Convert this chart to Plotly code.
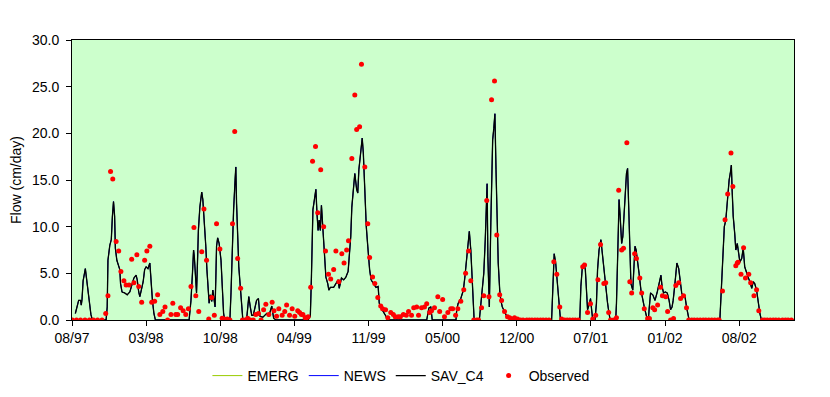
import plotly.graph_objects as go

# ---- data (x = days since start of record, 31 Aug 1997) ----
tick_days = [0, 200, 400, 600, 800, 1000, 1200, 1400, 1600, 1800]
tick_labels = ["08/97", "03/98", "10/98", "04/99", "11/99", "05/00", "12/00", "07/01", "01/02", "08/02"]
y_ticks = [0, 5, 10, 15, 20, 25, 30]

sim_day = [9, 13, 18, 23, 25, 27, 30, 36, 39, 43, 48, 51, 55, 92, 95, 97, 102, 106, 109, 112, 115, 117,
           121, 124, 129, 131, 135, 142, 149, 156, 162, 167, 173, 176, 180, 183, 187, 192, 196, 200, 205,
           210, 212, 214, 217, 221, 225, 316, 321, 325, 328, 330, 336, 338, 341, 345, 350, 353, 357, 361,
           364, 368, 370, 373, 377, 380, 383, 386, 388, 390, 393, 397, 402, 405, 409, 412, 426, 429, 432,
           436, 440, 442, 444, 447, 450, 454, 458, 461, 471, 474, 477, 481, 485, 489, 494, 498, 503, 507,
           515, 525, 531, 539, 544, 550, 637, 643, 646, 647, 650, 654, 656, 658, 661, 664, 667, 670, 673,
           676, 679, 682, 685, 690, 693, 697, 706, 712, 718, 721, 727, 733, 739, 745, 748, 752, 755, 760,
           763, 768, 771, 774, 777, 780, 783, 786, 789, 791, 794, 798, 800, 803, 807, 813, 820, 826, 829,
           834, 840, 847, 851, 957, 963, 968, 972, 1036, 1038, 1042, 1049, 1056, 1060, 1065, 1069, 1072,
           1076, 1078, 1081, 1084, 1085, 1099, 1103, 1107, 1111, 1115, 1117, 1120, 1122, 1126, 1130, 1132,
           1135, 1138, 1139, 1141, 1144, 1147, 1150, 1154, 1157, 1161, 1166, 1173, 1182, 1187, 1294, 1298,
           1301, 1305, 1308, 1312, 1316, 1318, 1370, 1373, 1377, 1381, 1385, 1388, 1391, 1395, 1399, 1402,
           1405, 1411, 1415, 1418, 1422, 1427, 1432, 1436, 1440, 1445, 1449, 1452, 1467, 1469, 1474, 1476,
           1479, 1483, 1486, 1490, 1494, 1496, 1499, 1502, 1505, 1508, 1513, 1515, 1519, 1522, 1526, 1530,
           1535, 1540, 1544, 1550, 1555, 1557, 1561, 1567, 1573, 1579, 1584, 1589, 1592, 1596, 1601, 1606,
           1611, 1615, 1619, 1622, 1626, 1629, 1632, 1637, 1640, 1645, 1649, 1654, 1658, 1663, 1665, 1748,
           1751, 1755, 1760, 1764, 1768, 1770, 1773, 1776, 1779, 1781, 1784, 1788, 1791, 1795, 1798, 1802,
           1807, 1811, 1815, 1820, 1824, 1829, 1834, 1838, 1842, 1847, 1851, 1856, 1860, 1947]
sim_flow = [0.7, 1.5, 2.1, 2.1, 1.6, 2.2, 4.2, 5.5, 4.5, 3.0, 1.7, 0.6, 0, 0, 1.4, 6.4, 8.0, 8.6, 11.1, 12.7,
            11.1, 7.7, 6.4, 6.1, 5.4, 3.9, 3.0, 2.9, 2.7, 3.0, 3.9, 4.5, 4.8, 4.3, 3.0, 2.5, 3.2, 4.1, 5.4,
            5.7, 5.5, 6.1, 5.0, 3.6, 2.1, 0.7, 0, 0, 2.1, 5.0, 7.5, 6.8, 2.9, 5.4, 9.6, 12.1, 13.7, 12.9,
            10.7, 7.9, 5.4, 2.9, 1.8, 2.7, 2.0, 3.2, 2.1, 1.4, 4.3, 7.9, 8.8, 8.2, 6.4, 3.6, 0.7, 0, 0, 2.9,
            7.9, 11.8, 15.0, 16.4, 12.5, 8.6, 5.7, 3.6, 1.4, 0, 0, 1.4, 2.5, 1.4, 0.5, 0.5, 1.4, 2.1, 2.3,
            0.4, 0.3, 0.7, 0.4, 1.5, 0.2, 0, 0, 0.4, 4.6, 8.2, 11.8, 12.9, 13.6, 14.0, 11.4, 9.6, 10.7, 9.6,
            12.3, 10.0, 8.2, 6.4, 4.6, 3.9, 3.2, 3.5, 3.5, 3.9, 4.3, 3.4, 4.5, 4.3, 4.6, 5.2, 6.8, 8.9, 12.1,
            14.3, 15.7, 14.0, 13.6, 16.1, 17.3, 18.75, 19.5, 17.9, 15.0, 12.1, 10.0, 7.9, 6.6, 5.4, 4.3,
            3.9, 3.5, 3.6, 1.8, 1.3, 0.9, 0.4, 0, 0, 1.3, 1.4, 0, 0, 1.1, 1.8, 2.3, 3.2, 4.6, 6.8, 8.6, 9.5,
            7.5, 5.4, 3.2, 0.7, 0, 0, 1.8, 2.9, 5.0, 8.6, 11.8, 14.6, 6.8, 1.4, 10.4, 16.1, 19.3, 20.5,
            21.4, 22.1, 16.1, 10.4, 6.1, 3.2, 2.1, 1.4, 0.9, 0.4, 0.1, 0, 0, 3.6, 7.1, 6.1, 4.6, 2.5, 1.1,
            0, 0, 3.6, 5.7, 6.1, 5.4, 3.2, 1.1, 1.6, 2.3, 1.1, 0, 0, 1.8, 5.4, 7.5, 8.6, 6.8, 5.0, 3.2,
            1.8, 0.7, 0, 0, 1.8, 9.6, 12.9, 11.1, 8.2, 8.9, 11.4, 14.6, 15.7, 16.25, 11.4, 6.1, 3.9, 3.2,
            5.4, 7.9, 7.5, 6.4, 5.0, 3.2, 2.0, 1.4, 0.4, 0, 1.1, 2.9, 2.7, 2.1, 3.0, 3.9, 4.8, 3.6, 2.9,
            3.0, 2.9, 2.1, 1.1, 1.4, 2.1, 3.6, 5.4, 6.1, 5.5, 4.3, 2.9, 2.5, 2.5, 1.4, 0.2, 0, 0, 2.5, 6.8,
            10.0, 10.7, 12.9, 14.0, 15.0, 15.7, 16.6, 14.0, 11.1, 9.3, 7.5, 8.2, 7.0, 6.2, 6.6, 7.7, 5.7,
            5.0, 4.6, 4.1, 3.4, 4.1, 3.9, 3.2, 1.8, 0.7, 0, 0]

# The three model runs coincide in the reference (only SAV_C4 is visible on top)
emerg_flow = sim_flow
news_flow = sim_flow

obs_day = [1, 12, 23, 35, 47, 58, 69, 81, 91, 97, 104, 110, 119, 126, 132, 140, 146, 154, 161, 167, 175,
           180, 188, 196, 202, 210, 215, 223, 231, 237, 245, 251, 258, 267, 272, 280, 285, 293, 300, 307,
           314, 321, 329, 334, 342, 350, 356, 363, 369, 377, 384, 390, 399, 405, 411, 419, 426, 433, 439,
           447, 455, 460, 467, 474, 481, 489, 496, 503, 510, 517, 523, 531, 540, 545, 552, 558, 567, 574,
           579, 587, 594, 601, 609, 614, 619, 623, 629, 633, 637, 644, 649, 657, 663, 671, 679, 684, 692,
           698, 706, 712, 720, 728, 734, 741, 746, 755, 763, 768, 776, 781, 790, 798, 803, 811, 817, 825,
           833, 838, 846, 852, 860, 867, 872, 880, 886, 894, 902, 908, 916, 922, 930, 935, 943, 951, 957,
           965, 970, 978, 987, 992, 1000, 1005, 1014, 1022, 1027, 1035, 1041, 1049, 1057, 1062, 1070,
           1076, 1084, 1092, 1097, 1105, 1111, 1119, 1125, 1132, 1140, 1146, 1154, 1159, 1167, 1175, 1181,
           1189, 1194, 1202, 1210, 1217, 1227, 1234, 1241, 1249, 1256, 1264, 1271, 1279, 1287, 1300, 1308,
           1316, 1321, 1329, 1336, 1343, 1351, 1358, 1366, 1378, 1383, 1391, 1399, 1405, 1413, 1419, 1426,
           1435, 1440, 1448, 1453, 1461, 1469, 1475, 1483, 1488, 1497, 1505, 1510, 1518, 1523, 1532, 1537,
           1544, 1553, 1558, 1567, 1572, 1580, 1588, 1593, 1602, 1607, 1615, 1623, 1629, 1637, 1642, 1650,
           1658, 1664, 1672, 1679, 1687, 1695, 1703, 1710, 1718, 1726, 1734, 1742, 1746, 1755, 1762, 1769,
           1778, 1783, 1791, 1795, 1797, 1805, 1812, 1817, 1826, 1831, 1840, 1847, 1853, 1863, 1869, 1876,
           1884, 1892, 1899, 1907, 1917, 1925, 1932, 1941]
obs_flow = [0, 0, 0, 0, 0, 0, 0, 0, 0.7, 2.6, 15.9, 15.1, 8.4, 7.4, 5.2, 4.2, 3.75, 3.75, 6.5, 4.0, 7.0,
            3.6, 1.9, 6.4, 7.4, 7.9, 1.9, 2.0, 2.7, 0.6, 0.9, 1.4, 0, 0.6, 1.8, 0.6, 0.6, 1.3, 1.0, 0.6,
            1.2, 3.6, 9.9, 2.6, 0.9, 7.3, 11.9, 6.4, 0.1, 2.4, 0.5, 10.3, 7.6, 0.2, 0.1, 0.1, 0, 10.3,
            20.2, 6.6, 3.4, 0, 0, 0.2, 0, 0, 0.6, 0.7, 0, 1.1, 1.7, 0.6, 1.9, 1.0, 0.4, 1.2, 0.5, 0.9,
            1.6, 0.5, 1.2, 0.4, 1.0, 0.8, 0.6, 0.6, 0.25, 0.25, 0.35, 3.5, 17.0, 18.6, 11.5, 16.1, 10.0,
            7.4, 4.9, 4.4, 5.4, 7.4, 4.1, 7.1, 6.1, 7.5, 8.5, 17.3, 24.1, 20.4, 20.7, 27.4, 16.4, 10.3,
            6.7, 4.6, 3.9, 2.4, 1.5, 1.2, 1.1, 0.25, 0.8, 0.6, 0.35, 0.35, 0.35, 0.6, 0.5, 0.9, 0.5, 1.3,
            1.4, 0.5, 1.3, 1.4, 1.75, 0.8, 1.0, 1.3, 2.5, 0.9, 2.2, 0.35, 0.8, 1.2, 1.2, 0.5, 1.2, 2.0,
            3.25, 5.0, 7.4, 4.2, 0, 0, 0, 1.3, 2.6, 12.8, 2.5, 23.6, 25.6, 9.1, 2.7, 2.1, 0.9, 0.35, 0.25,
            0.1, 0.25, 0.1, 0, 0, 0, 0, 0, 0, 0, 0, 0, 0, 0, 6.25, 4.9, 1.4, 0.1, 0, 0, 0, 0, 0, 0, 5.7,
            5.9, 0.8, 1.75, 0.1, 0.5, 4.3, 8.1, 3.9, 4.0, 0.8, 0, 0, 0.25, 13.9, 7.5, 7.7, 19.0, 4.1, 2.9,
            7.1, 6.6, 4.5, 2.9, 1.2, 0.15, 0.15, 1.3, 1.1, 1.6, 3.5, 2.6, 2.5, 0.9, 0, 0.15, 3.7, 4.0, 2.3,
            2.6, 1.3, 0, 0, 0, 0, 0, 0, 0, 0, 0, 0, 0, 0, 3.1, 10.75, 13.5, 17.9, 14.3, 5.8, 6.1, 6.2, 4.9,
            7.75, 4.5, 4.9, 4.0, 2.6, 3.25, 1.0, 0, 0, 0, 0, 0, 0, 0, 0, 0, 0, 0]

FONT = "Liberation Sans, Arial, sans-serif"

fig = go.Figure()
fig.add_trace(go.Scatter(x=sim_day, y=emerg_flow, mode="lines", name="EMERG",
                         line=dict(color="#99CC00", width=1)))
fig.add_trace(go.Scatter(x=sim_day, y=news_flow, mode="lines", name="NEWS",
                         line=dict(color="#0000FF", width=1)))
fig.add_trace(go.Scatter(x=sim_day, y=sim_flow, mode="lines", name="SAV_C4",
                         line=dict(color="#000000", width=1.3)))
fig.add_trace(go.Scatter(x=obs_day, y=obs_flow, mode="markers", name="Observed",
                         marker=dict(color="#FF0000", size=5, line=dict(width=0))))

# page body adds an 8px margin, so the figure is sized 822x389 to fill the 830x397 window
fig.update_layout(
    width=822, height=389,
    margin=dict(l=64, r=36, t=32, b=77, autoexpand=False),
    paper_bgcolor="white",
    plot_bgcolor="#CCFFCC",
    font=dict(family=FONT, size=14, color="black"),
    showlegend=True,
    legend=dict(orientation="h", xref="container", x=0.478, xanchor="center",
                yref="container", y=0.054, yanchor="middle",
                font=dict(family=FONT, size=14, color="black"),
                bgcolor="rgba(0,0,0,0)", itemwidth=30, tracegroupgap=0),
    xaxis=dict(range=[0, 1948], tickmode="array", tickvals=tick_days, ticktext=tick_labels,
               automargin=False,
               showgrid=False, zeroline=False, showline=True, linecolor="black", linewidth=1,
               mirror=True, ticks="outside", ticklen=5, tickcolor="black", tickwidth=1,
               tickfont=dict(family=FONT, size=14, color="black")),
    yaxis=dict(range=[0, 30], tickmode="array", tickvals=y_ticks, tickformat=".1f",
               automargin=False, ticklabelstandoff=4,
               showgrid=False, zeroline=False, showline=True, linecolor="black", linewidth=1,
               mirror=True, ticks="outside", ticklen=5, tickcolor="black", tickwidth=1,
               title=dict(text="Flow (cm/day)", font=dict(family=FONT, size=14, color="black"),
                          standoff=8),
               tickfont=dict(family=FONT, size=14, color="black")),
)

fig.write_html("out.html")
